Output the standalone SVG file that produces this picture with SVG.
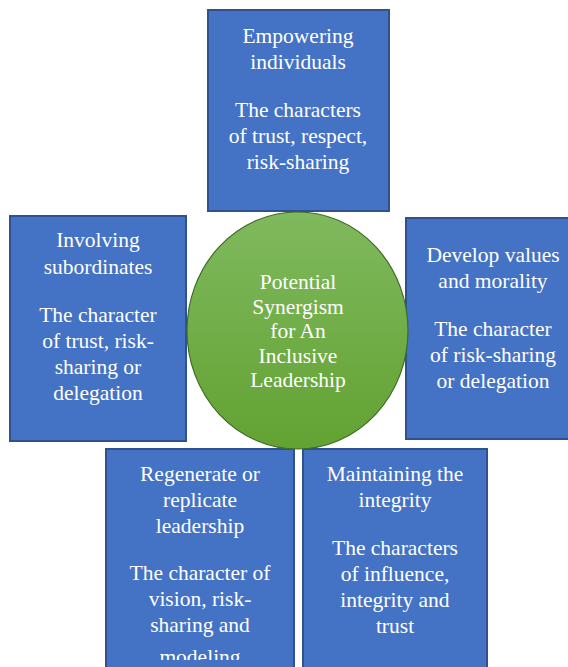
<svg xmlns="http://www.w3.org/2000/svg" width="568" height="667" viewBox="0 0 568 667">
<defs>
<linearGradient id="g" x1="0" y1="0" x2="0" y2="1">
<stop offset="0" stop-color="#80b95e"/>
<stop offset="1" stop-color="#62a232"/>
</linearGradient>
<clipPath id="clipBL"><rect x="0" y="0" width="568" height="660"/></clipPath>
</defs>
<style>
.box{fill:#4472c4;stroke:#2f528f;stroke-width:2}
.t{font-family:'Liberation Serif','DejaVu Serif',serif;font-size:21.5px;fill:#ffffff;text-anchor:middle}
</style>
<rect width="568" height="667" fill="#ffffff"/>
<g id="connectors"></g>
<g id="top">
<rect class="box" x="208" y="10" width="181" height="201"/>
<text class="t"><tspan x="298" y="43">Empowering</tspan><tspan x="298" y="69">individuals</tspan><tspan x="298" y="117">The characters</tspan><tspan x="298" y="143">of trust, respect,</tspan><tspan x="298" y="169">risk-sharing</tspan></text>
</g>
<g id="left">
<rect class="box" x="10" y="216" width="176" height="225"/>
<text class="t"><tspan x="98" y="247">Involving</tspan><tspan x="98" y="274">subordinates</tspan><tspan x="98" y="322">The character</tspan><tspan x="98" y="348">of trust, risk-</tspan><tspan x="98" y="374">sharing or</tspan><tspan x="98" y="400">delegation</tspan></text>
</g>
<g id="right">
<rect class="box" x="406" y="218" width="170" height="221"/>
<text class="t"><tspan x="493" y="262">Develop values</tspan><tspan x="493" y="288">and morality</tspan><tspan x="493" y="336">The character</tspan><tspan x="493" y="362">of risk-sharing</tspan><tspan x="493" y="388">or delegation</tspan></text>
</g>
<g id="bottom-left">
<rect class="box" x="106" y="449" width="188" height="230"/>
<text class="t" clip-path="url(#clipBL)"><tspan x="200" y="481">Regenerate or</tspan><tspan x="200" y="507">replicate</tspan><tspan x="200" y="533">leadership</tspan><tspan x="200" y="580">The character of</tspan><tspan x="200" y="606">vision, risk-</tspan><tspan x="200" y="632">sharing and</tspan><tspan x="200" y="664">modeling</tspan></text>
</g>
<g id="bottom-right">
<rect class="box" x="303" y="449" width="184" height="230"/>
<text class="t"><tspan x="395" y="481">Maintaining the</tspan><tspan x="395" y="507">integrity</tspan><tspan x="395" y="555">The characters</tspan><tspan x="395" y="581">of influence,</tspan><tspan x="395" y="607">integrity and</tspan><tspan x="395" y="633">trust</tspan></text>
</g>
<g id="center">
<ellipse cx="297.5" cy="330.5" rx="110.5" ry="118.5" fill="url(#g)" stroke="#3f6b26" stroke-width="1.2"/>
<text class="t"><tspan x="298" y="289">Potential</tspan><tspan x="298" y="314">Synergism</tspan><tspan x="298" y="338">for An</tspan><tspan x="298" y="363">Inclusive</tspan><tspan x="298" y="387">Leadership</tspan></text>
</g>
</svg>
